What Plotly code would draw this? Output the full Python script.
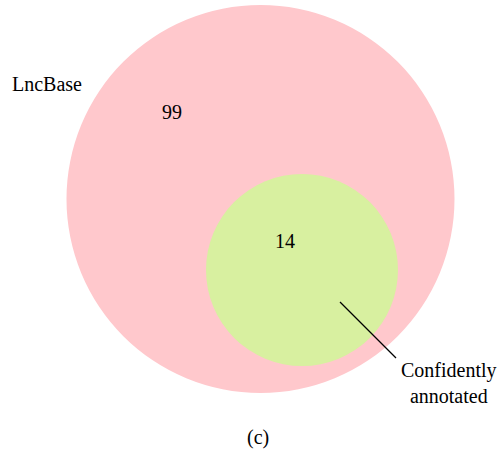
import plotly.graph_objects as go

# Data
set_labels = ["LncBase", "Confidently annotated"]
region_counts = [99, 14]
panel_label = "(c)"

W, H = 503, 453
fig = go.Figure()

# circles (pixel space via axes)
big = dict(cx=260.5, cy=199, r=194)
small = dict(cx=302, cy=270, r=96)
pink = "rgb(255,200,204)"
green = "rgb(216,240,160)"
for c, col in [(big, pink), (small, green)]:
    fig.add_shape(type="circle", xref="x", yref="y",
                  x0=c["cx"] - c["r"], x1=c["cx"] + c["r"],
                  y0=c["cy"] - c["r"], y1=c["cy"] + c["r"],
                  fillcolor=col, line=dict(width=0), layer="below")

# leader line
fig.add_shape(type="line", xref="x", yref="y", x0=340, y0=302, x1=396, y1=358,
              line=dict(color="black", width=1.3))

font = dict(family="Liberation Serif, DejaVu Serif, serif", size=20, color="black")
fig.add_trace(go.Scatter(x=[172, 285], y=[114, 243], mode="text",
                         text=[str(v) for v in region_counts],
                         textfont=font, hoverinfo="skip", showlegend=False))

fig.add_annotation(x=47, y=84, text=set_labels[0], showarrow=False, font=font,
                   xref="x", yref="y")
fig.add_annotation(x=449, y=383, text=set_labels[1].replace(" ", "<br>"), showarrow=False,
                   font=font, xref="x", yref="y", align="center")
fig.add_annotation(x=258, y=437, text=panel_label, showarrow=False, font=font,
                   xref="x", yref="y")

fig.update_layout(width=W, height=H, margin=dict(l=0, r=0, t=0, b=0),
                  paper_bgcolor="white", plot_bgcolor="white",
                  xaxis=dict(range=[0, W], visible=False, fixedrange=True),
                  yaxis=dict(range=[H, 0], visible=False, fixedrange=True))
fig.write_html("out.html", config={"displayModeBar": False},
               post_script="document.body.style.margin='0';document.body.style.overflow='hidden';")
